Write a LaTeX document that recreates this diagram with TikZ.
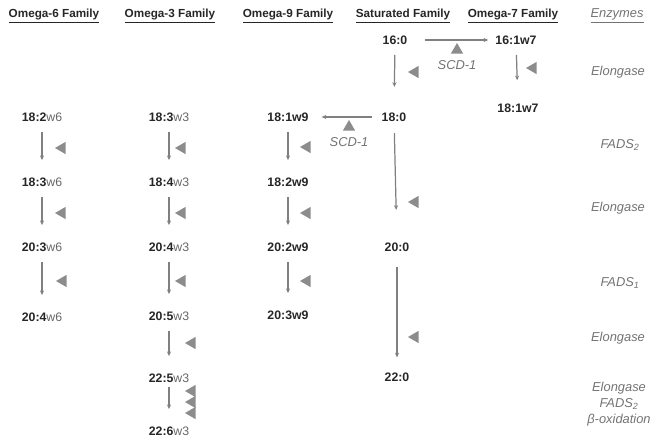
\documentclass[tikz,border=0pt]{standalone}
\usepackage{fontspec}
\setmainfont{Liberation Sans}
\usetikzlibrary{arrows.meta,shapes.geometric}
\newcommand{\omg}[1]{{\mdseries\color{black!60}w#1}}

\begin{document}
\begin{tikzpicture}[x=0.03cm, y=-0.03cm,
	fa/.style={font=\fontsize{10.5}{12}\bfseries, text=black!85, inner sep=1pt, text height=7pt, text depth=0pt},
	head/.style={font=\fontsize{10}{12}\bfseries, text=black!85},
	enz/.style={font=\fontsize{11}{13.5}\itshape, text=black!55, align=center},
	flow/.style={draw=black!50, line width=1.05pt, -{Stealth[length=4pt,width=3.5pt]}, shorten <=8pt, shorten >=14pt},
	tri/.style={regular polygon, regular polygon sides=3, shape border rotate=90, fill=black!45, inner sep=0pt, minimum size=12pt},
	uptri/.style={tri, shape border rotate=0}]
		\useasboundingbox (0,0) rectangle (654,437);
		% family headings
		\node[head] (h6) at (54,16) {\underline{Omega-6 Family}};
		\node[head] (h3) at (170,16) {\underline{Omega-3 Family}};
		\node[head] (h9) at (288,16) {\underline{Omega-9 Family}};
		\node[head] (hs) at (403,16) {\underline{Saturated Family}};
		\node[head] (h7) at (513,16) {\underline{Omega-7 Family}};
		\node[enz] (he) at (617,16) {\underline{Enzymes}};
		% saturated and omega-7
		\node[fa] (sa) at (395,40) {16:0};
		\node[fa] (n7a) at (516,40) {16:1w7};
		\node[fa] (n7b) at (518,108) {18:1w7};
		\node[fa] (sb) at (394,117) {18:0};
		\node[fa] (sc) at (397,247) {20:0};
		\node[fa] (sd) at (397,377) {22:0};
		% omega-9
		\node[fa] (n9a) at (288,117) {18:1w9};
		\node[fa] (n9b) at (288,182) {18:2w9};
		\node[fa] (n9c) at (288,247) {20:2w9};
		\node[fa] (n9d) at (288,315) {20:3w9};
		% omega-3
		\node[fa] (n3a) at (169,117) {18:3\omg{3}};
		\node[fa] (n3b) at (169,182) {18:4\omg{3}};
		\node[fa] (n3c) at (169,247) {20:4\omg{3}};
		\node[fa] (n3d) at (169,316) {20:5\omg{3}};
		\node[fa] (n3e) at (169,378) {22:5\omg{3}};
		\node[fa] (n3f) at (169,431) {22:6\omg{3}};
		% omega-6
		\node[fa] (n6a) at (42,117) {18:2\omg{6}};
		\node[fa] (n6b) at (42,182) {18:3\omg{6}};
		\node[fa] (n6c) at (42,247) {20:3\omg{6}};
		\node[fa] (n6d) at (42,317) {20:4\omg{6}};
		% conversions
		\draw[flow, shorten <=14pt, shorten >=5pt] (sa) -- (n7a);
		\draw[flow, shorten <=7pt, shorten >=10pt] (sb) -- (n9a);
		\draw[flow, shorten >=21pt] (sa) -- (sb);
		\draw[flow, shorten >=19pt] (n7a) -- (n7b);
		\draw[flow, shorten <=9pt, shorten >=27pt] (sb) -- (sc);
		\draw[flow, shorten <=12pt, shorten >=12pt] (sc) -- (sd);
		\draw[flow] (n9a) -- (n9b);
		\draw[flow] (n9b) -- (n9c);
		\draw[flow] (n9c) -- (n9d);
		\draw[flow] (n3a) -- (n3b);
		\draw[flow] (n3b) -- (n3c);
		\draw[flow] (n3c) -- (n3d);
		\draw[flow] (n3d) -- (n3e);
		\draw[flow, shorten <=3pt] (n3e) -- (n3f);
		\draw[flow] (n6a) -- (n6b);
		\draw[flow] (n6b) -- (n6c);
		\draw[flow] (n6c) -- (n6d);
		% enzyme markers
		\foreach \x/\y [count=\i] in {62/148, 62/213, 63/281, 182/148, 182/213, 182/281, 192/343,
				192/391, 192/402, 192/413, 307/147, 307/213, 307/281, 415/72, 415/202, 415/337, 533/68}
			\node[tri] (t\i) at (\x,\y) {};
		\node[uptri] (u1) at (457,50) {};
		\node[uptri] (u2) at (349,127) {};
		\node[enz] (scd1) at (457,65) {SCD-1};
		\node[enz] (scd2) at (349,142) {SCD-1};
		% enzyme names
		\node[enz] (e1) at (618,72) {Elongase};
		\node[enz] (e2) at (620,145) {FADS\textsubscript{2}};
		\node[enz] (e3) at (618,208) {Elongase};
		\node[enz] (e4) at (620,283) {FADS\textsubscript{1}};
		\node[enz] (e5) at (618,338) {Elongase};
		\node[enz] (e6) at (619,404) {Elongase\\FADS\textsubscript{2}\\β-oxidation};
	\end{tikzpicture}
\end{document}
